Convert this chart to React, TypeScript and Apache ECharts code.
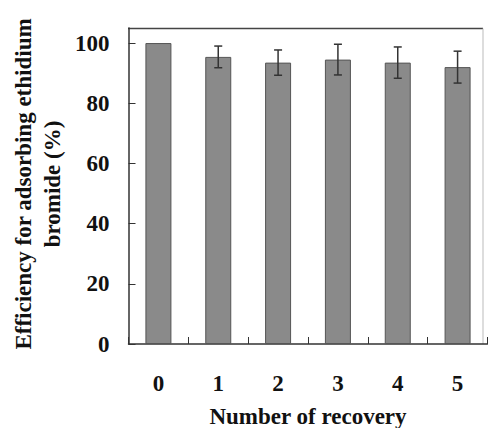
import React, { useEffect, useRef } from "react";
import * as echarts from "echarts";

const categories = ["0", "1", "2", "3", "4", "5"];
const efficiency = [100, 95.4, 93.5, 94.5, 93.5, 92.0];
const errors = [0, 3.6, 4.2, 5.1, 5.2, 5.3];
const yTicks = [0, 20, 40, 60, 80, 100];
const yTitleLines = ["Efficiency for adsorbing ethidium", "bromide (%)"];
const xTitle = "Number of recovery";

const FONT = "'Liberation Serif', 'Times New Roman', serif";

export default function App() {
  const ref = useRef<HTMLDivElement>(null);
  useEffect(() => {
    if (!ref.current) return;
    const chart = echarts.init(ref.current, undefined, { renderer: "svg" });
    const errData = efficiency
      .map((v, i) => [i, v - errors[i], v + errors[i]])
      .filter((_, i) => errors[i] > 0);
    chart.setOption({
      animation: false,
      backgroundColor: "#ffffff",
      grid: { left: 128.5, right: 0.5, top: 28, bottom: 84, containLabel: false, outerBoundsMode: "none" },
      xAxis: {
        type: "category",
        data: categories,
        name: xTitle,
        nameLocation: "middle",
        nameGap: 61,
        nameTextStyle: { fontFamily: FONT, fontWeight: "bold", fontSize: 23, color: "#111" },
        axisLine: { show: true, lineStyle: { color: "#333", width: 1.5 } },
        axisTick: { show: true, inside: true, length: 7, lineStyle: { color: "#333" } },
        axisLabel: { margin: 28, fontFamily: FONT, fontWeight: "bold", fontSize: 23, color: "#111" },
        splitLine: { show: false },
      },
      yAxis: {
        type: "value",
        min: 0,
        max: 105,
        interval: 20,
        axisLine: { show: true, lineStyle: { color: "#333", width: 1.5 } },
        axisTick: { show: true, inside: true, length: 7, lineStyle: { color: "#333" } },
        axisLabel: {
          margin: 19,
          showMaxLabel: false,
          fontFamily: FONT,
          fontWeight: "bold",
          fontSize: 23,
          color: "#111",
          formatter: (v: number) => (yTicks.includes(v) ? String(v) : ""),
        },
        splitLine: { show: false },
      },
      graphic: [
        { type: "line", shape: { x1: 128, y1: 28.5, x2: 483, y2: 28.5 }, style: { stroke: "#444", lineWidth: 1.5 }, silent: true },
        { type: "line", shape: { x1: 483, y1: 28.5, x2: 483, y2: 344 }, style: { stroke: "#bbb", lineWidth: 1 }, silent: true },
        {
          type: "text",
          x: 23,
          y: 184,
          rotation: Math.PI / 2,
          silent: true,
          style: {
            text: yTitleLines[0],
            font: `bold 23px ${FONT}`,
            fill: "#111",
            align: "center",
            verticalAlign: "middle",
          },
        },
        {
          type: "text",
          x: 52,
          y: 184,
          rotation: Math.PI / 2,
          silent: true,
          style: {
            text: yTitleLines[1],
            font: `bold 23px ${FONT}`,
            fill: "#111",
            align: "center",
            verticalAlign: "middle",
          },
        },
      ],
      series: [
        {
          type: "bar",
          data: efficiency,
          barWidth: 26,
          itemStyle: { color: "#8a8a8a", borderColor: "#555", borderWidth: 1 },
        },
        {
          type: "custom",
          data: errData,
          z: 5,
          renderItem: (params: any, api: any) => {
            const x = api.value(0);
            const top = api.coord([x, api.value(2)]);
            const bot = api.coord([x, api.value(1)]);
            const w = 4;
            const style = { stroke: "#333", lineWidth: 1.5 };
            return {
              type: "group",
              children: [
                { type: "line", shape: { x1: top[0], y1: top[1], x2: bot[0], y2: bot[1] }, style },
                { type: "line", shape: { x1: top[0] - w, y1: top[1], x2: top[0] + w, y2: top[1] }, style },
                { type: "line", shape: { x1: bot[0] - w, y1: bot[1], x2: bot[0] + w, y2: bot[1] }, style },
              ],
            };
          },
        },
      ],
    });
    return () => chart.dispose();
  }, []);
  return <div ref={ref} style={{ width: 488, height: 428, position: "absolute", left: 0, top: 0 }} />;
}
